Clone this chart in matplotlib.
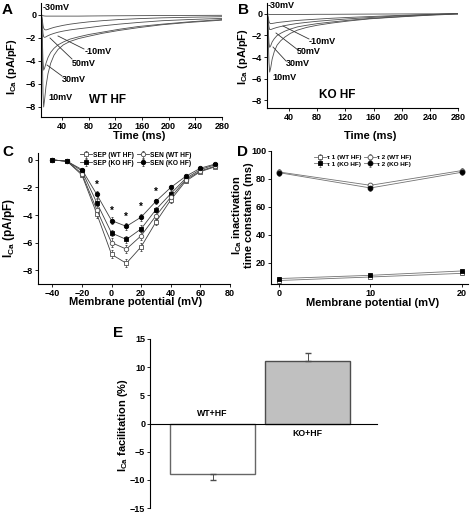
import matplotlib
matplotlib.use('Agg')
import matplotlib.pyplot as plt

plt.rcParams['font.family'] = ['Liberation Sans', 'DejaVu Sans']
plt.rcParams['font.weight'] = 'bold'
plt.rcParams['mathtext.fontset'] = 'custom'
plt.rcParams['mathtext.rm'] = 'Liberation Sans:bold'
plt.rcParams['mathtext.bf'] = 'Liberation Sans:bold'
plt.rcParams['mathtext.it'] = 'Liberation Sans:bold'
plt.rcParams['axes.linewidth'] = 0.8

# ---------------- data ----------------
trace_time = [8.5, 9.5, 10.5, 11.5, 12.5, 14, 16, 19, 23, 28, 34, 42, 52, 65, 80, 100, 125, 155, 190, 230, 280]
wt_m30 = [0, 0, -0.03, -0.06, -0.08, -0.09, -0.1, -0.1, -0.1, -0.1, -0.1, -0.1, -0.1, -0.1, -0.09, -0.08, -0.07, -0.06, -0.05, -0.04, -0.03]
wt_m10 = [0, -0.05, -0.4, -0.9, -1.15, -1.28, -1.3, -1.25, -1.17, -1.08, -1.0, -0.9, -0.8, -0.7, -0.6, -0.5, -0.4, -0.32, -0.25, -0.2, -0.15]
wt_10 = [0, -0.4, -3.2, -6.8, -8.0, -7.3, -6.2, -5.1, -4.2, -3.5, -3.0, -2.6, -2.3, -2.05, -1.85, -1.6, -1.35, -1.1, -0.85, -0.65, -0.45]
wt_30 = [0, -0.3, -2.0, -4.0, -4.8, -4.6, -4.2, -3.7, -3.25, -2.9, -2.6, -2.35, -2.1, -1.9, -1.7, -1.5, -1.25, -1.0, -0.8, -0.6, -0.4]
wt_50 = [0, -0.1, -0.8, -1.6, -1.9, -1.95, -1.9, -1.8, -1.7, -1.6, -1.5, -1.4, -1.3, -1.2, -1.1, -0.95, -0.8, -0.65, -0.5, -0.4, -0.3]

ko_m30 = [0, 0, -0.02, -0.04, -0.05, -0.05, -0.05, -0.05, -0.05, -0.05, -0.05, -0.05, -0.04, -0.04, -0.03, -0.03, -0.02, -0.01, 0.0, 0.01, 0.02]
ko_m10 = [0, -0.05, -0.3, -0.7, -0.85, -0.9, -0.88, -0.85, -0.8, -0.76, -0.72, -0.66, -0.6, -0.54, -0.48, -0.4, -0.32, -0.24, -0.15, -0.07, 0.0]
ko_10 = [0, -0.3, -2.2, -4.5, -5.4, -5.0, -4.2, -3.5, -2.9, -2.5, -2.15, -1.8, -1.5, -1.25, -1.05, -0.85, -0.65, -0.45, -0.3, -0.15, 0.0]
ko_30 = [0, -0.2, -1.4, -2.7, -3.1, -2.95, -2.6, -2.3, -2.0, -1.8, -1.6, -1.4, -1.2, -1.05, -0.9, -0.75, -0.58, -0.42, -0.28, -0.12, 0.05]
ko_50 = [0, -0.1, -0.6, -1.2, -1.45, -1.45, -1.4, -1.33, -1.25, -1.17, -1.08, -0.98, -0.88, -0.78, -0.68, -0.57, -0.45, -0.33, -0.2, -0.08, 0.05]

iv_voltage = [-40, -30, -20, -10, 0, 10, 20, 30, 40, 50, 60, 70]
sep_wt = [0, -0.1, -1.1, -3.9, -6.85, -7.5, -6.3, -4.5, -2.9, -1.55, -0.85, -0.5]
sen_wt = [0, -0.1, -1.0, -3.6, -6.0, -6.47, -5.5, -4.05, -2.7, -1.45, -0.8, -0.45]
sep_ko = [0, -0.1, -0.8, -3.1, -5.3, -5.77, -5.0, -3.6, -2.45, -1.35, -0.7, -0.35]
sen_ko = [0, -0.1, -0.7, -2.5, -4.4, -4.82, -4.15, -3.0, -2.0, -1.2, -0.6, -0.3]
sep_wt_err = [0, 0.05, 0.15, 0.3, 0.3, 0.3, 0.3, 0.25, 0.2, 0.15, 0.1, 0.1]
sen_wt_err = [0, 0.05, 0.15, 0.3, 0.3, 0.3, 0.3, 0.25, 0.2, 0.15, 0.1, 0.1]
sep_ko_err = [0, 0.05, 0.12, 0.25, 0.25, 0.25, 0.25, 0.2, 0.18, 0.12, 0.1, 0.08]
sen_ko_err = [0, 0.05, 0.12, 0.25, 0.25, 0.25, 0.25, 0.2, 0.18, 0.12, 0.1, 0.08]
star_voltage = [-10, 0, 10, 20, 30]

tau_voltage = [0, 10, 20]
tau1_wt = [7.5, 10.0, 12.6]
tau2_wt = [85.0, 75.5, 86.0]
tau1_ko = [8.9, 11.2, 14.3]
tau2_ko = [84.5, 73.6, 84.8]
tau1_err = [1.0, 1.0, 1.0]
tau2_err = [2.0, 2.0, 2.0]

fac_groups = ['WT+HF', 'KO+HF']
fac_values = [-9.0, 11.1]
fac_err = [1.1, 1.5]

# ---------------- layout ----------------
W, H = 472, 512
fig = plt.figure(figsize=(W / 100, H / 100), dpi=100)


def axes_px(l, t, r, b):
    return fig.add_axes([l / W, 1 - b / H, (r - l) / W, (b - t) / H])


def style(ax, size=6.5):
    for s in ['top', 'right']:
        ax.spines[s].set_visible(False)
    ax.tick_params(direction='out', length=2, width=0.6, labelsize=size, pad=1.5)
    for lab in ax.get_xticklabels() + ax.get_yticklabels():
        lab.set_fontweight('bold')


def ftext(x, y, s, **kw):
    fig.text(x / W, 1 - y / H, s, **kw)


def fline(x0, y0, x1, y1):
    fig.add_artist(plt.Line2D([x0 / W, x1 / W], [1 - y0 / H, 1 - y1 / H],
                              lw=0.6, color='0.2', transform=fig.transFigure))


ylab_ca = r'I$_{\mathbf{Ca}}$ (pA/pF)'

# ---- A ----
axA = axes_px(41, 3, 222, 117)
for tr in [wt_m30, wt_m10, wt_50, wt_30, wt_10]:
    axA.plot(trace_time, tr, color='0.3', lw=0.6)
axA.set_xlim(8.5, 280)
axA.set_ylim(-8.87, 1.04)
axA.set_xticks([40, 80, 120, 160, 200, 240, 280])
axA.set_yticks([0, -2, -4, -6, -8])
style(axA)
ftext(43, 7, '-30mV', fontsize=6.5, fontweight='bold', va='center')
ftext(85, 52, '-10mV', fontsize=6.5, fontweight='bold', va='center')
ftext(72, 63, '50mV', fontsize=6.5, fontweight='bold', va='center')
ftext(62, 80, '30mV', fontsize=6.5, fontweight='bold', va='center')
ftext(48, 98, '10mV', fontsize=6.5, fontweight='bold', va='center')
ftext(89, 100, 'WT HF', fontsize=8.5, fontweight='bold', va='center')
fline(84, 49, 58, 36)
fline(72, 59, 50, 38)
fline(62, 76, 47, 65)
ftext(139, 136, 'Time (ms)', fontsize=8, fontweight='bold', ha='center', va='center')
ftext(12, 67, ylab_ca, fontsize=8, fontweight='bold', ha='center', va='center', rotation=90)
ftext(2, 3, 'A', fontsize=11, fontweight='bold', va='top')

# ---- B ----
axB = axes_px(267, 3, 458, 108)
for tr in [ko_m30, ko_m10, ko_50, ko_30, ko_10]:
    axB.plot(trace_time, tr, color='0.3', lw=0.6)
axB.set_xlim(8.7, 280)
axB.set_ylim(-8.74, 1.02)
axB.set_xticks([40, 80, 120, 160, 200, 240, 280])
axB.set_yticks([0, -2, -4, -6, -8])
style(axB)
ftext(268, 6, '-30mV', fontsize=6.5, fontweight='bold', va='center')
ftext(309, 41, '-10mV', fontsize=6.5, fontweight='bold', va='center')
ftext(297, 52, '50mV', fontsize=6.5, fontweight='bold', va='center')
ftext(286, 63, '30mV', fontsize=6.5, fontweight='bold', va='center')
ftext(272, 77, '10mV', fontsize=6.5, fontweight='bold', va='center')
ftext(319, 95, 'KO HF', fontsize=8.5, fontweight='bold', va='center')
fline(309, 39, 283, 26)
fline(298, 50, 276, 33)
fline(286, 61, 273, 47)
ftext(370, 136, 'Time (ms)', fontsize=8, fontweight='bold', ha='center', va='center')
ftext(243, 57, ylab_ca, fontsize=8, fontweight='bold', ha='center', va='center', rotation=90)
ftext(238, 3, 'B', fontsize=11, fontweight='bold', va='top')

# ---- C ----
axC = axes_px(37.5, 153, 230, 284)
mk = dict(markersize=3.2, lw=0.6, capsize=1, elinewidth=0.5, color='0.25', markeredgewidth=0.6)
axC.errorbar(iv_voltage, sep_wt, yerr=sep_wt_err, marker='s', mfc='white', mec='0.3', label='SEP (WT HF)', **mk)
axC.errorbar(iv_voltage, sep_ko, yerr=sep_ko_err, marker='s', mfc='black', mec='black', label='SEP (KO HF)', **mk)
axC.errorbar(iv_voltage, sen_wt, yerr=sen_wt_err, marker='o', mfc='white', mec='0.3', label='SEN (WT HF)', **mk)
axC.errorbar(iv_voltage, sen_ko, yerr=sen_ko_err, marker='o', mfc='black', mec='black', label='SEN (KO HF)', **mk)
for v in star_voltage:
    i = iv_voltage.index(v)
    axC.text(v, sen_ko[i] + 0.35, '*', ha='center', va='bottom', fontsize=7, fontweight='bold')
axC.set_xlim(-50, 80)
axC.set_ylim(-9, 0.5)
axC.set_xticks([-40, -20, 0, 20, 40, 60, 80])
axC.set_yticks([0, -2, -4, -6, -8])
style(axC)
axC.legend(ncol=2, loc='upper left', bbox_to_anchor=(0.2, 1.04), fontsize=4.8, frameon=False,
           handlelength=1.8, columnspacing=0.4, labelspacing=0.15, handletextpad=0.2, borderpad=0.1)
ftext(136, 302, 'Membrane potential (mV)', fontsize=8, fontweight='bold', ha='center', va='center')
ftext(9, 228, ylab_ca, fontsize=8.5, fontweight='bold', ha='center', va='center', rotation=90)
ftext(2, 145, 'C', fontsize=11, fontweight='bold', va='top')

# ---- D ----
axD = axes_px(271, 151, 468, 284)
mkd = dict(markersize=3.5, lw=0.6, capsize=1, elinewidth=0.5, color='0.45', markeredgewidth=0.6)
axD.errorbar(tau_voltage, tau1_wt, yerr=tau1_err, marker='s', mfc='white', mec='0.3', label=u'\u03c4 1 (WT HF)', **mkd)
axD.errorbar(tau_voltage, tau1_ko, yerr=tau1_err, marker='s', mfc='black', mec='black', label=u'\u03c4 1 (KO HF)', **mkd)
axD.errorbar(tau_voltage, tau2_wt, yerr=tau2_err, marker='o', mfc='white', mec='0.3', label=u'\u03c4 2 (WT HF)', **mkd)
axD.errorbar(tau_voltage, tau2_ko, yerr=tau2_err, marker='o', mfc='black', mec='black', label=u'\u03c4 2 (KO HF)', **mkd)
axD.set_xlim(-0.9, 20.7)
axD.set_ylim(5, 100)
axD.set_xticks([0, 10, 20])
axD.set_yticks([20, 40, 60, 80, 100])
style(axD, size=6.5)
axD.legend(ncol=2, loc='upper left', bbox_to_anchor=(0.2, 1.0), fontsize=4.6, frameon=False,
           handlelength=1.8, columnspacing=0.4, labelspacing=0.15, handletextpad=0.2, borderpad=0.1)
ftext(373, 303, 'Membrane potential (mV)', fontsize=8, fontweight='bold', ha='center', va='center')
ftext(242, 215, r'I$_{\mathbf{Ca}}$ inactivation' + '\n' + 'time constants (ms)', fontsize=8,
      fontweight='bold', ha='center', va='center', rotation=90, linespacing=0.95)
ftext(237, 145, 'D', fontsize=11, fontweight='bold', va='top')

# ---- E ----
axE = axes_px(150, 339, 377, 508)
xpos = list(range(len(fac_groups)))
axE.bar(xpos[0], fac_values[0], width=0.9, color='white', edgecolor='0.4', lw=1.0)
axE.bar(xpos[1], fac_values[1], width=0.9, color='#c0c0c0', edgecolor='0.3', lw=1.0)
axE.errorbar(xpos[0], fac_values[0], yerr=[[fac_err[0]], [0]], fmt='none', ecolor='0.3', elinewidth=0.7, capsize=2)
axE.errorbar(xpos[1], fac_values[1], yerr=[[0], [fac_err[1]]], fmt='none', ecolor='0.3', elinewidth=0.7, capsize=2)
axE.set_xlim(-0.66, 1.73)
axE.set_ylim(-15, 15)
axE.set_yticks([-15, -10, -5, 0, 5, 10, 15])
style(axE)
axE.spines['bottom'].set_position(('data', 0))
axE.set_xticks([])
axE.text(xpos[0], 1.8, fac_groups[0], ha='center', va='center', fontsize=6.3, fontweight='bold')
axE.text(xpos[1], -1.8, fac_groups[1], ha='center', va='center', fontsize=6.3, fontweight='bold')
ftext(123, 425, r'I$_{\mathbf{Ca}}$ facilitation (%)', fontsize=8, fontweight='bold', ha='center', va='center', rotation=90)
ftext(113, 326, 'E', fontsize=11, fontweight='bold', va='top')

fig.savefig('out.png', dpi=100)
